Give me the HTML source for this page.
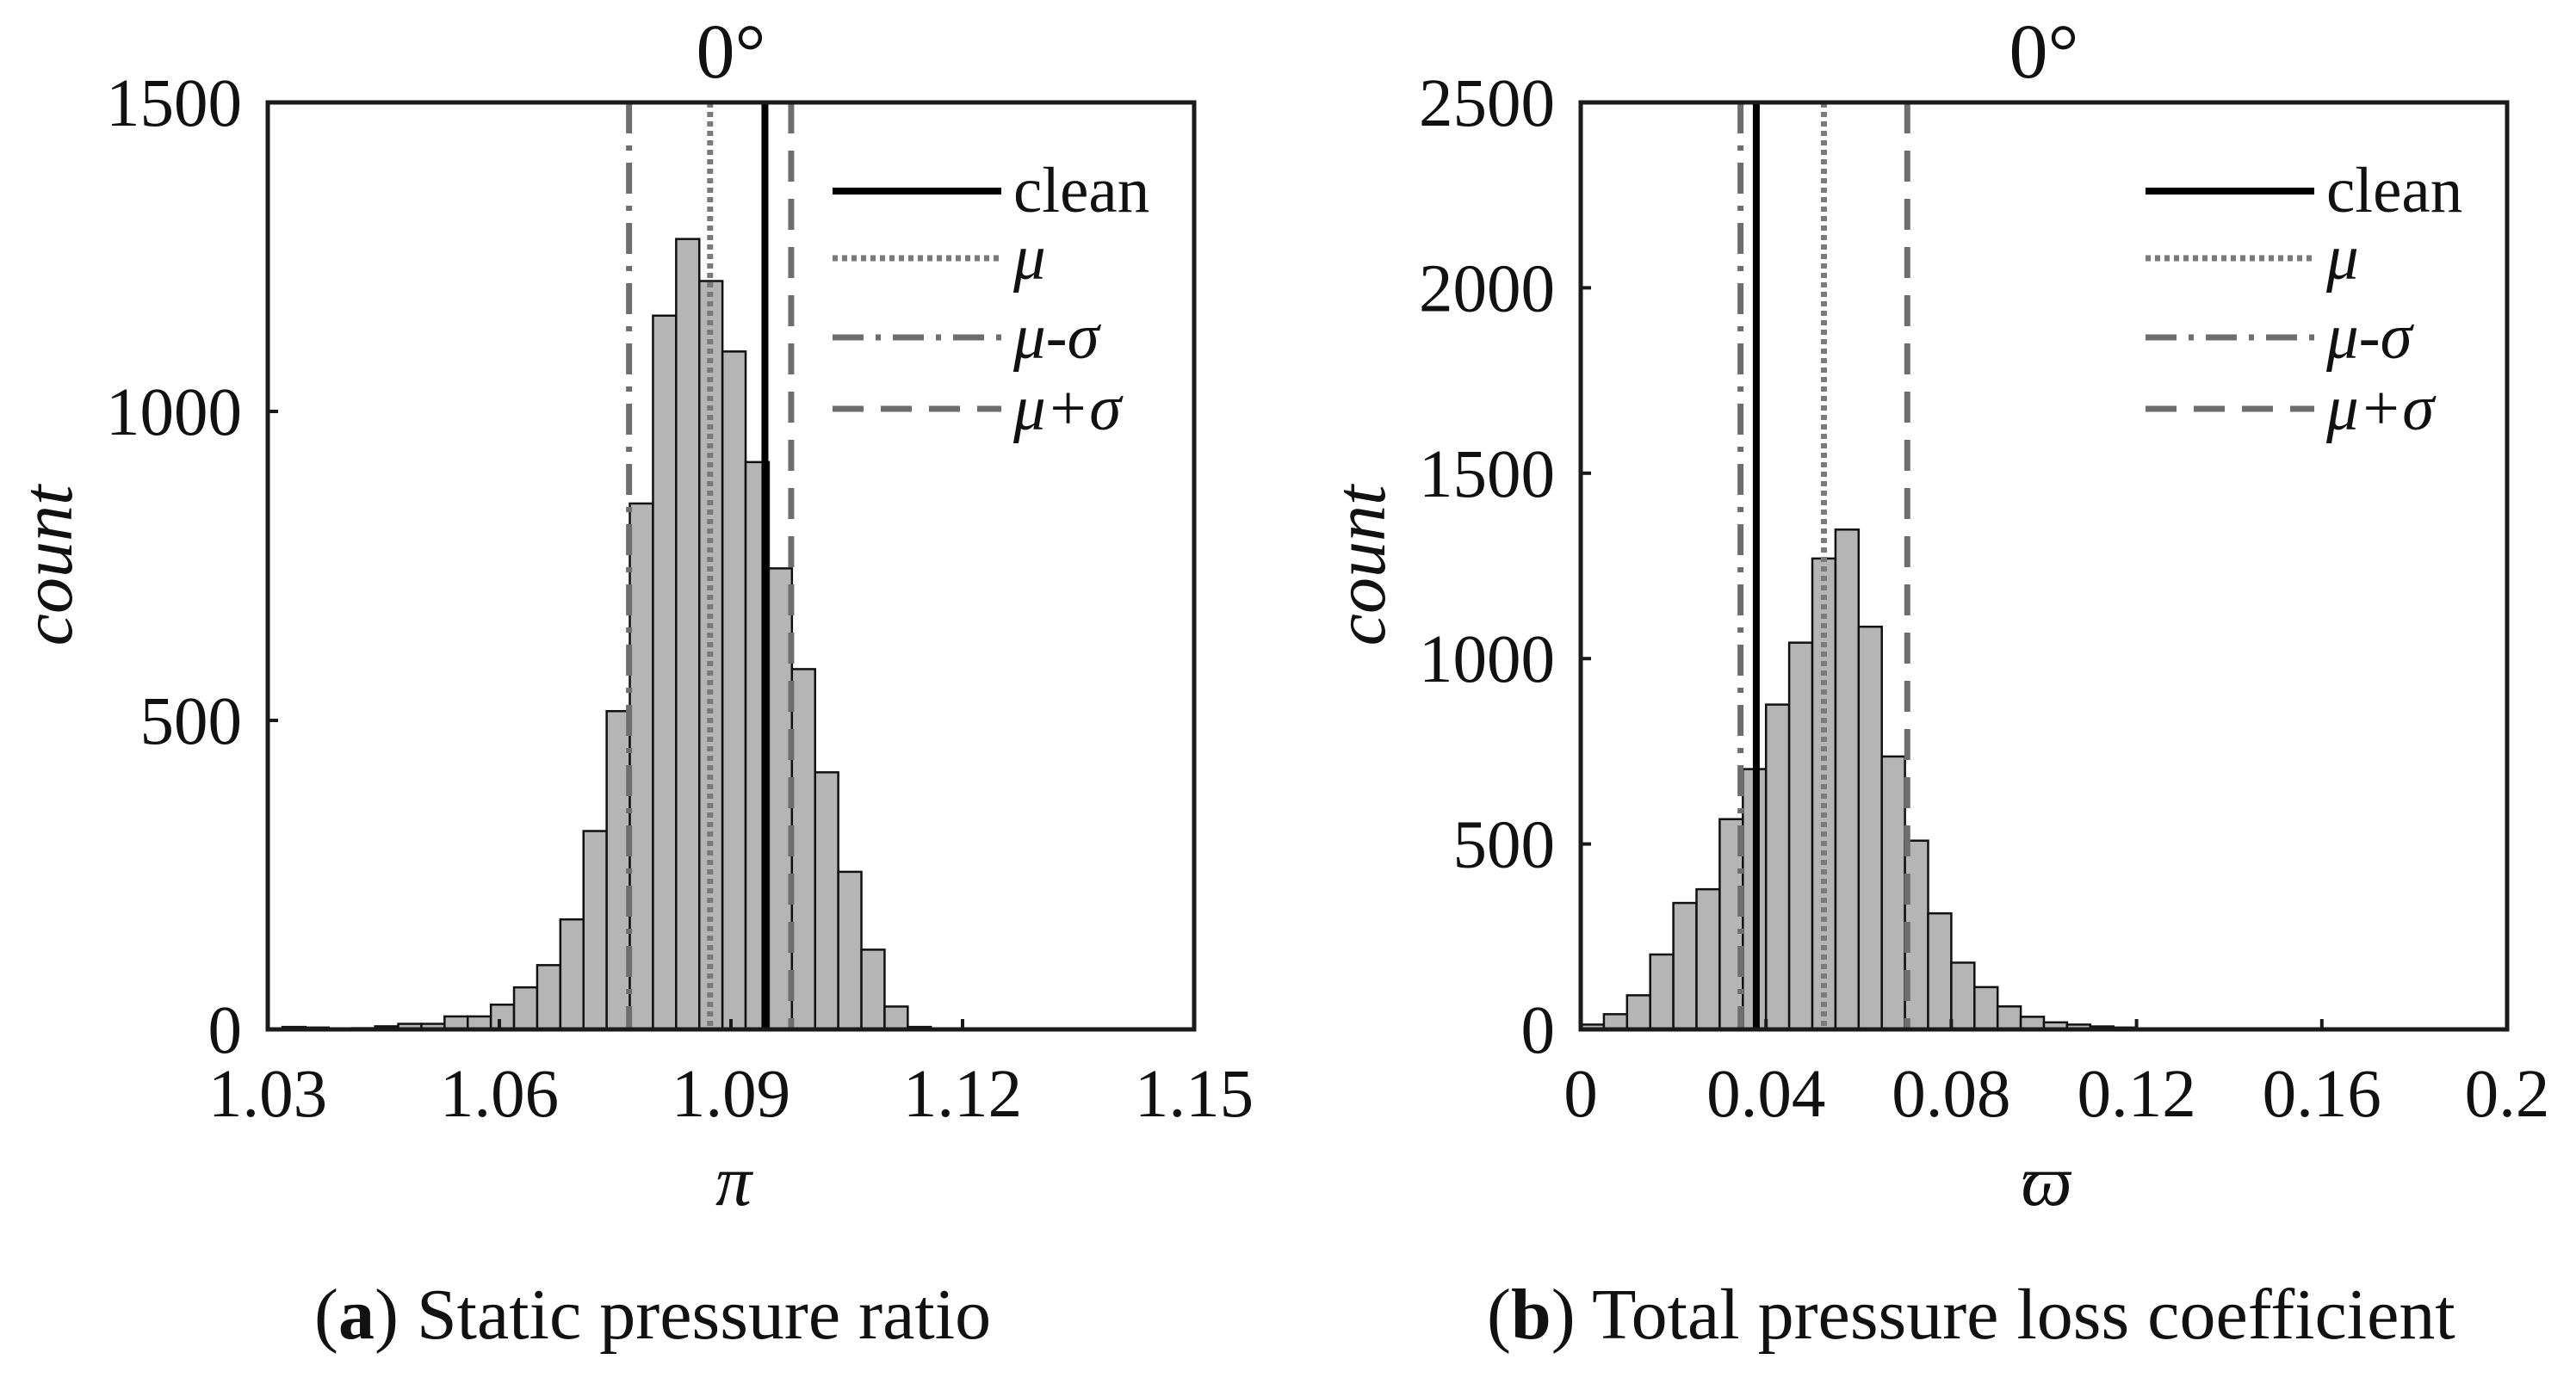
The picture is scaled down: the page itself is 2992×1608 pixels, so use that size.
<!DOCTYPE html>
<html><head><meta charset="utf-8">
<style>
html,body{margin:0;padding:0;background:#fff;}
svg{display:block;}
text{font-family:"Liberation Serif",serif;fill:#111;}
</style></head>
<body>
<svg id="fig" width="2992" height="1608" viewBox="0 0 2992 1608" xmlns="http://www.w3.org/2000/svg">
<g id="pa"></g>
<g id="pb"></g>
<text x="365" y="1555" font-size="84">(<tspan font-weight="bold">a</tspan>) Static pressure ratio</text>
<text x="1727" y="1555" font-size="84">(<tspan font-weight="bold">b</tspan>) Total pressure loss coefficient</text>
</svg>
<script>
// Panel A data
const aBinStart = 1.0319;
const aBinWidth = 0.003;
const aCounts = [4,3,1,2,5,9,9,21,21,40,68,104,178,321,515,851,1155,1279,1211,1097,918,746,583,416,255,129,37,4,1,1,0,0,0,0,0,0,0,0,0];
const aXTicks = [1.03,1.06,1.09,1.12,1.15];
const aXTickLabels = ["1.03","1.06","1.09","1.12","1.15"];
const aYTicks = [0,500,1000,1500];
const aYTickLabels = ["0","500","1000","1500"];
const aClean = 1.0944, aMu = 1.0873, aMuMinus = 1.0768, aMuPlus = 1.0978;
// Panel B data
const bBinStart = 0;
const bBinWidth = 0.005;
const bCounts = [13,41,92,202,341,378,567,702,876,1043,1270,1348,1086,736,509,313,180,114,62,34,19,13,8,5,2,1,1,1,0,0,0,0,0,0,0,0,0,0,0,0];
const bXTicks = [0,0.04,0.08,0.12,0.16,0.2];
const bXTickLabels = ["0","0.04","0.08","0.12","0.16","0.2"];
const bYTicks = [0,500,1000,1500,2000,2500];
const bYTickLabels = ["0","500","1000","1500","2000","2500"];
const bClean = 0.0379, bMu = 0.0525, bMuMinus = 0.0345, bMuPlus = 0.0705;

const NS="http://www.w3.org/2000/svg";
function mk(parent,tag,attrs){const e=document.createElementNS(NS,tag);for(const k in attrs)e.setAttribute(k,attrs[k]);parent.appendChild(e);return e;}

function panel(g,o){
  const L=o.left,R=o.left+1076,T=119,B=1196;
  const xs=v=>L+(v-o.xmin)/(o.xmax-o.xmin)*(R-L);
  const ys=v=>B-(v/o.ymax)*(B-T);
  o.counts.forEach((c,i)=>{
    const x0=xs(o.binStart+i*o.binWidth), x1=xs(o.binStart+(i+1)*o.binWidth);
    if(x1>R) return;
    const r=mk(g,'rect',{x:x0,y:ys(c),width:x1-x0,height:B-ys(c),fill:'#b5b5b5',stroke:'#111','stroke-width':2.5});
    
    
  });
  const lines=[
    {v:o.muMinus,c:'#6e6e6e',w:7,d:'36 14 6 14',n:'mu-minus-sigma-line'},
    {v:o.mu,c:'#7a7a7a',w:7,d:'6 5',n:'mu-line'},
    {v:o.muPlus,c:'#6e6e6e',w:7,d:'36 20',n:'mu-plus-sigma-line'},
    {v:o.clean,c:'#000',w:8,d:'',n:'clean-line'}
  ];
  lines.forEach(l=>{
    const e=mk(g,'line',{x1:xs(l.v),x2:xs(l.v),y1:T,y2:B,stroke:l.c,'stroke-width':l.w,'stroke-dasharray':l.d});
    
    
  });
  const f=mk(g,'rect',{x:L,y:T,width:R-L,height:B-T,fill:'none',stroke:'#1a1a1a','stroke-width':5});
  
  
  o.xTicks.forEach((t,i)=>{
    mk(g,'line',{x1:xs(t),x2:xs(t),y1:B,y2:B-12,stroke:'#1a1a1a','stroke-width':4});
    const e=mk(g,'text',{x:xs(t),y:1297,'font-size':79,'text-anchor':'middle'});
    e.textContent=o.xTickLabels[i];
    
    
  });
  o.yTicks.forEach((t,i)=>{
    mk(g,'line',{x1:L,x2:L+12,y1:ys(t),y2:ys(t),stroke:'#1a1a1a','stroke-width':4});
    const e=mk(g,'text',{x:L-30,y:ys(t)+27,'font-size':79,'text-anchor':'end'});
    e.textContent=o.yTickLabels[i];
    
    
  });
  const tt=mk(g,'text',{x:(L+R)/2,y:90,'font-size':90,'text-anchor':'middle'});
  tt.textContent='0°';
  
  
  const xl=mk(g,'text',{x:(L+R)/2+3,y:1400,'font-size':84,'font-style':'italic','text-anchor':'middle'});
  xl.textContent=o.xlabel;
  
  
  const yl=mk(g,'text',{x:0,y:0,'font-size':84,'font-style':'italic','text-anchor':'middle',transform:`translate(${L-228},657) rotate(-90)`});
  yl.textContent='count';
  
  
  const lx0=L+656, lx1=L+852, tx=L+866;
  const leg=[
    {y:222,c:'#000',w:8,d:'',t:'clean',it:false},
    {y:300,c:'#7a7a7a',w:7,d:'6 5',t:'μ',it:true},
    {y:392,c:'#6e6e6e',w:7,d:'36 14 6 14',t:'μ-σ',it:true},
    {y:475,c:'#6e6e6e',w:7,d:'36 20',t:'μ+σ',it:true}
  ];
  leg.forEach(l=>{
    const ln=mk(g,'line',{x1:lx0,x2:lx1,y1:l.y,y2:l.y,stroke:l.c,'stroke-width':l.w,'stroke-dasharray':l.d});
    
    
    const t=mk(g,'text',{x:tx,y:l.y+24,'font-size':75});
    if(l.it) t.setAttribute('font-style','italic');
    t.textContent=l.t;
    
    
  });
}
panel(document.getElementById('pa'),{left:311,xmin:1.03,xmax:1.15,ymax:1500,binStart:aBinStart,binWidth:aBinWidth,counts:aCounts,xTicks:aXTicks,xTickLabels:aXTickLabels,yTicks:aYTicks,yTickLabels:aYTickLabels,clean:aClean,mu:aMu,muMinus:aMuMinus,muPlus:aMuPlus,xlabel:'π'});
panel(document.getElementById('pb'),{left:1836,xmin:0,xmax:0.2,ymax:2500,binStart:bBinStart,binWidth:bBinWidth,counts:bCounts,xTicks:bXTicks,xTickLabels:bXTickLabels,yTicks:bYTicks,yTickLabels:bYTickLabels,clean:bClean,mu:bMu,muMinus:bMuMinus,muPlus:bMuPlus,xlabel:'ϖ'});
</script>
</body></html>
